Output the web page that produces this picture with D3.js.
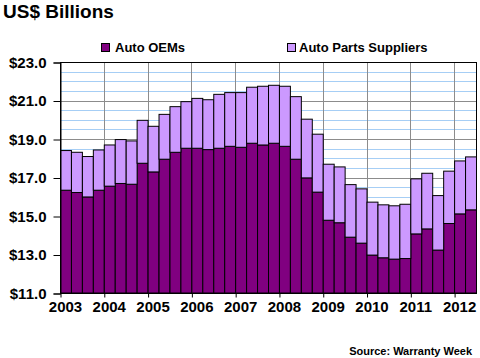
<!DOCTYPE html>
<html><head><meta charset="utf-8">
<script src="https://cdn.jsdelivr.net/npm/d3@7"></script>
<style>body{margin:0;background:#fff}svg{display:block;font-family:"Liberation Sans",Arial,sans-serif}</style>
</head><body><svg id="c" width="480" height="358"></svg>
<script>
const years = ["2003","2004","2005","2006","2007","2008","2009","2010","2011","2012"];
const quarters = ["Q1","Q2","Q3","Q4"];
const categories = [];
years.forEach(y => quarters.forEach(q => { if (!(y === "2012" && (q === "Q3" || q === "Q4"))) categories.push(y + " " + q); }));
const totals = [18.40,18.31,18.09,18.43,18.69,18.97,18.90,19.97,
  19.66,20.28,20.68,20.94,21.11,21.04,21.32,21.41,
  21.41,21.69,21.74,21.79,21.74,21.20,20.03,19.25,
  17.69,17.55,16.63,16.41,15.72,15.58,15.53,15.61,
  16.93,17.22,16.06,17.33,17.86,18.07];
const oems = [16.34,16.22,15.99,16.34,16.55,16.69,16.65,17.74,
  17.29,17.95,18.31,18.52,18.52,18.45,18.52,18.62,
  18.57,18.78,18.69,18.78,18.62,17.95,16.98,16.24,
  14.78,14.65,13.90,13.59,12.97,12.83,12.76,12.79,
  14.07,14.33,13.23,14.61,15.11,15.32];
const suppliers = totals.map((t,i) => +(t - oems[i]).toFixed(2));
const yTicks = [11,13,15,17,19,21,23];
const seriesNames = ["Auto OEMs","Auto Parts Suppliers"];
const colors = ["#800080","#CC99FF"];

const svg = d3.select("#c");
const L = 60, R = 476, T = 62, B = 293;
const x = d3.scaleBand().domain(categories).range([L, R]).padding(0);
const xi = d3.scaleLinear().domain([0, categories.length]).range([L, R]);
const y = d3.scaleLinear().domain([11, 23]).range([B, T]);

// minor grid
const minor = d3.range(11.5, 23, 0.5).filter(v => !yTicks.includes(v));
svg.append("g").selectAll("line").data(minor).join("line")
  .attr("x1", L).attr("x2", R).attr("y1", d => Math.round(y(d)) + 0.5).attr("y2", d => Math.round(y(d)) + 0.5)
  .attr("stroke", "#A6CEF5").attr("stroke-width", 1);
// major grid
svg.append("g").selectAll("line").data(yTicks.slice(1, -1)).join("line")
  .attr("x1", L).attr("x2", R).attr("y1", d => Math.round(y(d)) + 0.5).attr("y2", d => Math.round(y(d)) + 0.5)
  .attr("stroke", "#8C8C8C").attr("stroke-width", 1);
// vertical grid
const yearIdx = d3.range(4, categories.length, 4);
svg.append("g").selectAll("line").data(yearIdx).join("line")
  .attr("x1", d => Math.round(xi(d)) + 0.5).attr("x2", d => Math.round(xi(d)) + 0.5)
  .attr("y1", T).attr("y2", B).attr("stroke", "#8C8C8C").attr("stroke-width", 1);

// stacked bars
const rows = categories.map((c, i) => ({cat: c, oem: oems[i], sup: suppliers[i]}));
const stack = d3.stack().keys(["oem", "sup"]);
const layers = stack(rows);
svg.append("g").selectAll("g").data(layers).join("g")
  .attr("fill", (d, i) => colors[i])
  .selectAll("rect").data(d => d).join("rect")
  .attr("x", d => x(d.data.cat) + 0.5)
  .attr("width", x.bandwidth())
  .attr("y", d => y(Math.min(23, d[1])))
  .attr("height", d => y(Math.max(11, d[0])) - y(Math.min(23, d[1])))
  .attr("stroke", "#000").attr("stroke-width", 1);

// plot border
svg.append("rect").attr("x", L + 0.5).attr("y", T + 0.5).attr("width", R - L).attr("height", B - T)
  .attr("fill", "none").attr("stroke", "#000").attr("stroke-width", 1);

// y axis
const ya = svg.append("g").attr("transform", `translate(${L + 0.5},0.5)`)
  .call(d3.axisLeft(y).tickValues(yTicks).tickFormat(d => "$" + d.toFixed(1)).tickSize(7).tickPadding(7));
ya.select(".domain").attr("stroke", "#000");
ya.selectAll("text").attr("font-size", 15).attr("font-weight", "bold").attr("fill", "#000").attr("font-family", "Liberation Sans, Arial, sans-serif");

// x axis ticks
const xt = svg.append("g").attr("transform", `translate(0.5,${B + 0.5})`)
  .call(d3.axisBottom(xi).tickValues(d3.range(0, categories.length + 1, 4).filter(v => v <= categories.length)).tickFormat("").tickSize(4));
xt.select(".domain").remove();
// x labels
const xl = svg.append("g").attr("transform", `translate(0,${B + 8})`)
  .call(d3.axisBottom(x).tickValues(categories.filter(c => c.endsWith("Q1"))).tickFormat(c => c.slice(0, 4)).tickSize(0).tickPadding(0));
xl.select(".domain").remove();
xl.selectAll("text").attr("font-size", 15).attr("font-weight", "bold").attr("fill", "#000").attr("font-family", "Liberation Sans, Arial, sans-serif");

// title
svg.append("text").attr("x", 3).attr("y", 18).text("US$ Billions")
  .attr("font-size", 19).attr("font-weight", "bold");

// legend
const legX = [101, 287], txtX = [115, 299];
seriesNames.forEach((n, i) => {
  svg.append("rect").attr("x", legX[i] + 0.5).attr("y", 43.5).attr("width", 8).attr("height", 8)
    .attr("fill", colors[i]).attr("stroke", "#000");
  svg.append("text").attr("x", txtX[i]).attr("y", 52).text(n)
    .attr("font-size", 13).attr("font-weight", "bold");
});

// source
svg.append("text").attr("x", 472).attr("y", 355).attr("text-anchor", "end")
  .text("Source: Warranty Week").attr("font-size", 11).attr("font-weight", "bold");
</script></body></html>
